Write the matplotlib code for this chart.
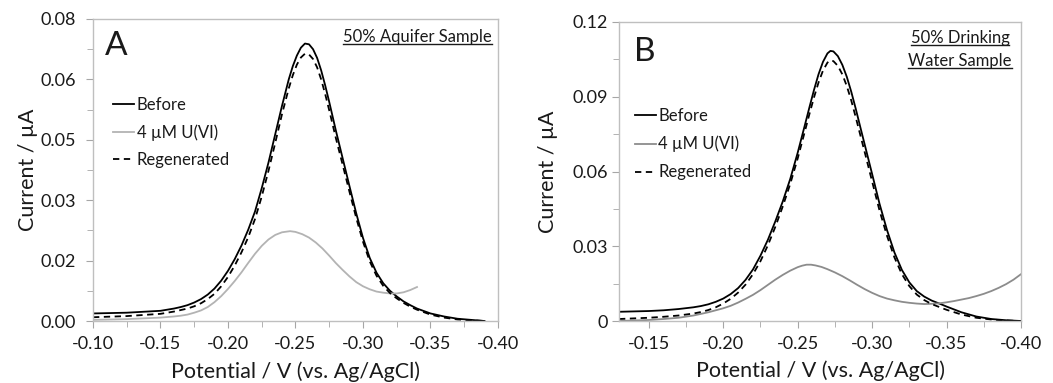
import matplotlib
matplotlib.use('Agg')
from matplotlib import pyplot as plt
from matplotlib.ticker import MultipleLocator, FixedLocator, FuncFormatter
from matplotlib.lines import Line2D

plt.rcParams['font.family'] = ['Lato', 'DejaVu Sans']

# ---- panel A: 50% aquifer sample ----
a_before_x = [-0.100, -0.125, -0.150, -0.160, -0.165, -0.170, -0.175, -0.180,
              -0.185, -0.190, -0.195, -0.200, -0.205, -0.210, -0.215, -0.220,
              -0.225, -0.230, -0.235, -0.240, -0.245, -0.248, -0.251, -0.254,
              -0.257, -0.260, -0.263, -0.266, -0.269, -0.272, -0.275, -0.280,
              -0.285, -0.290, -0.295, -0.300, -0.305, -0.310, -0.315, -0.320,
              -0.325, -0.330, -0.335, -0.340, -0.350, -0.360, -0.370, -0.380,
              -0.390]
a_before_y = [0.0020, 0.0022, 0.0027, 0.0033, 0.0037, 0.0042, 0.0049, 0.0058,
              0.0070, 0.0086, 0.0107, 0.0133, 0.0164, 0.0200, 0.0242, 0.0290,
              0.0352, 0.0420, 0.0495, 0.0570, 0.0640, 0.0675, 0.0703, 0.0724,
              0.0735, 0.0733, 0.0720, 0.0697, 0.0664, 0.0624, 0.0580, 0.0503,
              0.0430, 0.0357, 0.0285, 0.0220, 0.0167, 0.0128, 0.0100, 0.0080,
              0.0065, 0.0052, 0.0042, 0.0033, 0.0020, 0.0012, 0.0006, 0.0003,
              0.0000]
a_regen_y = [0.0010, 0.0013, 0.0019, 0.0025, 0.0029, 0.0033, 0.0039, 0.0047,
             0.0058, 0.0072, 0.0092, 0.0117, 0.0147, 0.0182, 0.0222, 0.0270,
             0.0330, 0.0398, 0.0472, 0.0548, 0.0616, 0.0651, 0.0679, 0.0698,
             0.0708, 0.0706, 0.0694, 0.0672, 0.0640, 0.0601, 0.0558, 0.0483,
             0.0413, 0.0342, 0.0273, 0.0210, 0.0158, 0.0120, 0.0093, 0.0074,
             0.0060, 0.0048, 0.0038, 0.0030, 0.0017, 0.0009, 0.0004, 0.0002,
             0.0000]
a_uvi_x = [-0.100, -0.125, -0.150, -0.160, -0.165, -0.170, -0.175, -0.180,
           -0.185, -0.190, -0.195, -0.200, -0.205, -0.210, -0.215, -0.220,
           -0.225, -0.230, -0.235, -0.240, -0.246, -0.250, -0.255, -0.260,
           -0.265, -0.270, -0.275, -0.280, -0.285, -0.290, -0.295, -0.300,
           -0.305, -0.310, -0.315, -0.320, -0.325, -0.330, -0.335, -0.340]
a_uvi_y = [0.0003, 0.0005, 0.0009, 0.0012, 0.0014, 0.0017, 0.0022, 0.0028,
           0.0037, 0.0050, 0.0066, 0.0085, 0.0106, 0.0129, 0.0154, 0.0178,
           0.0199, 0.0216, 0.0228, 0.0235, 0.0238, 0.0236, 0.0230, 0.0221,
           0.0208, 0.0192, 0.0173, 0.0153, 0.0135, 0.0118, 0.0103, 0.0092,
           0.0084, 0.0078, 0.0075, 0.0073, 0.0073, 0.0076, 0.0082, 0.0090]

# ---- panel B: 50% drinking water sample ----
b_before_x = [-0.130, -0.150, -0.160, -0.170, -0.180, -0.185, -0.190, -0.195,
              -0.200, -0.205, -0.210, -0.215, -0.220, -0.225, -0.230, -0.235,
              -0.240, -0.245, -0.250, -0.255, -0.258, -0.261, -0.264, -0.267,
              -0.270, -0.272, -0.274, -0.277, -0.280, -0.283, -0.286, -0.289,
              -0.292, -0.296, -0.300, -0.305, -0.310, -0.315, -0.320, -0.325,
              -0.330, -0.335, -0.340, -0.346, -0.350, -0.360, -0.370, -0.380,
              -0.390, -0.400]
b_before_y = [0.0037, 0.0040, 0.0043, 0.0048, 0.0055, 0.0060, 0.0067, 0.0077,
              0.0090, 0.0108, 0.0132, 0.0165, 0.0207, 0.0262, 0.0326, 0.0400,
              0.0480, 0.0570, 0.0675, 0.0790, 0.0860, 0.0928, 0.0990, 0.1040,
              0.1074, 0.1084, 0.1082, 0.1063, 0.1028, 0.0980, 0.0920, 0.0852,
              0.0780, 0.0685, 0.0590, 0.0470, 0.0365, 0.0275, 0.0205, 0.0155,
              0.0120, 0.0098, 0.0082, 0.0068, 0.0058, 0.0035, 0.0018, 0.0008,
              0.0003, 0.0000]
b_regen_y = [0.0008, 0.0013, 0.0017, 0.0022, 0.0030, 0.0036, 0.0044, 0.0055,
             0.0070, 0.0089, 0.0114, 0.0146, 0.0188, 0.0240, 0.0304, 0.0378,
             0.0460, 0.0550, 0.0652, 0.0765, 0.0833, 0.0898, 0.0957, 0.1005,
             0.1037, 0.1046, 0.1043, 0.1024, 0.0990, 0.0943, 0.0885, 0.0818,
             0.0748, 0.0655, 0.0560, 0.0443, 0.0342, 0.0255, 0.0188, 0.0140,
             0.0106, 0.0084, 0.0068, 0.0054, 0.0045, 0.0026, 0.0013, 0.0006,
             0.0002, 0.0000]
b_uvi_x = [-0.130, -0.140, -0.150, -0.160, -0.170, -0.180, -0.190, -0.200,
           -0.205, -0.210, -0.215, -0.220, -0.225, -0.230, -0.235, -0.240,
           -0.245, -0.250, -0.253, -0.256, -0.259, -0.262, -0.266, -0.270,
           -0.275, -0.280, -0.285, -0.290, -0.295, -0.300, -0.305, -0.310,
           -0.315, -0.320, -0.325, -0.330, -0.335, -0.340, -0.345, -0.350,
           -0.355, -0.360, -0.365, -0.370, -0.375, -0.380, -0.385, -0.390,
           -0.395, -0.400]
b_uvi_y = [0.0000, 0.0002, 0.0004, 0.0008, 0.0013, 0.0022, 0.0035, 0.0051,
           0.0061, 0.0074, 0.0089, 0.0105, 0.0124, 0.0145, 0.0166, 0.0185,
           0.0202, 0.0216, 0.0222, 0.0226, 0.0226, 0.0223, 0.0217, 0.0208,
           0.0195, 0.0180, 0.0163, 0.0145, 0.0128, 0.0113, 0.0100, 0.0090,
           0.0083, 0.0077, 0.0073, 0.0070, 0.0068, 0.0069, 0.0071, 0.0075,
           0.0080, 0.0086, 0.0092, 0.0100, 0.0109, 0.0120, 0.0133, 0.0148,
           0.0166, 0.0188]

labels = ['Before', '4 \u00b5M U(VI)', 'Regenerated']

W, H = 1053, 383
fig = plt.figure(figsize=(W / 100, H / 100), dpi=100)
axA = fig.add_axes([93 / W, 1 - 321 / H, 405 / W, 302 / H])
axB = fig.add_axes([619 / W, 1 - 321 / H, 402 / W, 299 / H])

spine_col = '#bfbfbf'
text_col = '#1a1a1a'


def style_axis(ax):
    for s in ax.spines.values():
        s.set_color(spine_col)
        s.set_linewidth(1.0)
    ax.tick_params(which='both', direction='out', color='#a6a6a6',
                   labelcolor=text_col, labelsize=13)
    ax.tick_params(which='major', length=5)
    ax.tick_params(which='minor', length=4)
    ax.tick_params(axis='x', pad=6)
    ax.xaxis.set_major_formatter(FuncFormatter(lambda v, p: '%.2f' % v))


# panel A
axA.plot(a_before_x, a_before_y, color='black', lw=1.3, label=labels[0])
axA.plot(a_uvi_x, a_uvi_y, color='#b3b3b3', lw=1.3, label=labels[1])
axA.plot(a_before_x, a_regen_y, color='black', lw=1.3, dashes=(3.5, 2.5),
         label=labels[2])
axA.set_xlim(-0.10, -0.40)
axA.set_ylim(0, 0.08)
axA.xaxis.set_major_locator(MultipleLocator(0.05))
axA.xaxis.set_minor_locator(MultipleLocator(0.025))
axA.yaxis.set_major_locator(FixedLocator([0, 0.016, 0.032, 0.048, 0.064, 0.08]))
axA.yaxis.set_minor_locator(FixedLocator([0.008, 0.024, 0.040, 0.056, 0.072]))
style_axis(axA)
axA.tick_params(axis='y', pad=7)
axA.yaxis.set_major_formatter(FuncFormatter(lambda v, p: '%.2f' % v))

# panel B
axB.plot(b_before_x, b_before_y, color='black', lw=1.3, label=labels[0])
axB.plot(b_uvi_x, b_uvi_y, color='#8c8c8c', lw=1.3, label=labels[1])
axB.plot(b_before_x, b_regen_y, color='black', lw=1.3, dashes=(3.5, 2.5),
         label=labels[2])
axB.set_xlim(-0.13, -0.40)
axB.set_ylim(0, 0.12)
axB.xaxis.set_major_locator(FixedLocator([-0.15, -0.20, -0.25, -0.30, -0.35, -0.40]))
axB.xaxis.set_minor_locator(FixedLocator([-0.175, -0.225, -0.275, -0.325, -0.375]))
axB.yaxis.set_major_locator(MultipleLocator(0.03))
axB.yaxis.set_minor_locator(MultipleLocator(0.015))
style_axis(axB)
axB.tick_params(axis='y', pad=3)
axB.yaxis.set_major_formatter(
    FuncFormatter(lambda v, p: '0' if abs(v) < 1e-9 else '%.2f' % v))

for ax, xl, yl in [(axA, -0.136, -0.135), (axB, -0.152, -0.132)]:
    ax.set_ylabel('Current / \u00b5A', fontsize=15.5, color=text_col)
    ax.set_xlabel('Potential / V (vs. Ag/AgCl)', fontsize=15.5, color=text_col)
    ax.yaxis.set_label_coords(xl, 0.5)
    ax.xaxis.set_label_coords(0.5, yl)

legA = axA.legend(loc='upper left', bbox_to_anchor=(0.05, 0.742), frameon=False,
                  fontsize=12, handlelength=1.25, handletextpad=0.15,
                  labelspacing=0.68, borderpad=0, borderaxespad=0)
legB = axB.legend(loc='upper left', bbox_to_anchor=(0.04, 0.713), frameon=False,
                  fontsize=12, handlelength=1.25, handletextpad=0.15,
                  labelspacing=0.72, borderpad=0, borderaxespad=0)
for leg in (legA, legB):
    for t in leg.get_texts():
        t.set_color(text_col)

axA.text(0.03, 0.96, 'A', transform=axA.transAxes, fontsize=24,
         ha='left', va='top', color=text_col)
axB.text(0.038, 0.95, 'B', transform=axB.transAxes, fontsize=24,
         ha='left', va='top', color=text_col)

tA = axA.text(0.985, 0.94, '50% Aquifer Sample', transform=axA.transAxes,
              fontsize=12, ha='right', va='center', color=text_col)
tB1 = fig.text(960 / W, 1 - 38 / H, '50% Drinking', fontsize=12,
               ha='center', va='center', color=text_col)
tB2 = fig.text(960 / W, 1 - 61 / H, 'Water Sample', fontsize=12,
               ha='center', va='center', color=text_col)

# underline the sample captions
fig.canvas.draw()
r = fig.canvas.get_renderer()
for t in (tA, tB1, tB2):
    bb = t.get_window_extent(renderer=r)
    yline = bb.y0 + 1
    fig.add_artist(Line2D([bb.x0 / W, bb.x1 / W], [yline / H, yline / H],
                          transform=fig.transFigure, color=text_col, lw=1.0))

fig.savefig('out.png', dpi=100)
